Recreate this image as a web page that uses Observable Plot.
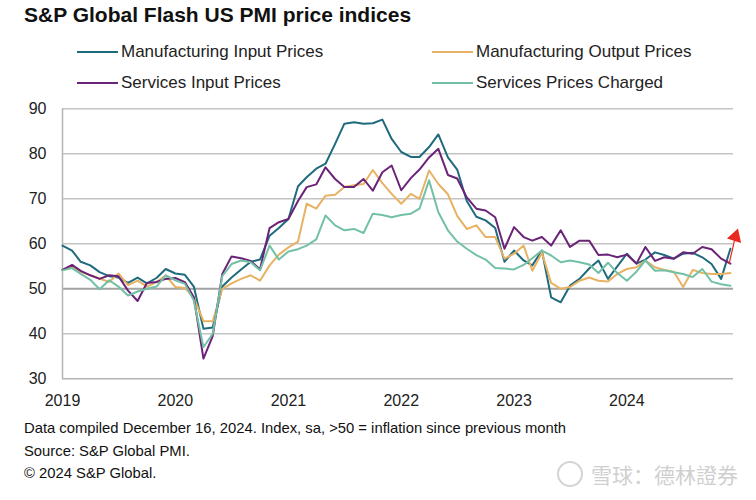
<!DOCTYPE html>
<html><head><meta charset="utf-8">
<script src="https://cdn.jsdelivr.net/npm/d3@7"></script>
<script src="https://cdn.jsdelivr.net/npm/@observablehq/plot@0.6"></script>
<style>
body{margin:0;background:#fff;font-family:"Liberation Sans",Arial,sans-serif;}
#wrap{position:relative;width:756px;height:500px;overflow:hidden;background:#fff;}
.title{position:absolute;left:24px;top:3px;font-size:21px;font-weight:bold;color:#111;white-space:nowrap;}
.leg{position:absolute;font-size:17px;color:#222;display:flex;align-items:center;white-space:nowrap;height:20px;}
.leg .sw{display:inline-block;width:41px;height:2.5px;margin-right:3px;}
#chart{position:absolute;left:0;top:95px;}
.foot{position:absolute;left:24px;font-size:14.8px;color:#111;white-space:nowrap;}
.wm{position:absolute;right:18px;top:459px;font-size:21px;color:#cfcfcf;font-family:"Noto Sans CJK SC",sans-serif;white-space:nowrap;display:flex;align-items:center;}
.wm .logo{display:inline-block;width:22px;height:22px;border:2px solid #d4d4d4;border-radius:50%;margin-right:8px;}
</style></head>
<body><div id="wrap"></div>
<script>
// ---- data ----
const seriesNames = ["Manufacturing Input Prices","Manufacturing Output Prices","Services Input Prices","Services Prices Charged"];
const seriesColors = ["#1f6b7e","#e7b264","#6b2378","#72c1a6"];
const startMonth = "2019-01";
const yearTicks = [2019,2020,2021,2022,2023,2024];
const yTicks = [30,40,50,60,70,80,90];

const mfgInput = [
  59.6,58.5,56.0,55.2,53.7,52.8,52.5,51.3,52.5,51.2,52.4,54.4,
  53.4,53.1,50.5,41.1,41.4,50.5,52.5,54.3,56.0,56.5,61.8,63.5,
  65.5,72.8,74.8,76.7,77.8,82.2,86.7,87.0,86.7,86.8,87.6,83.3,
  80.4,79.3,79.3,81.5,84.3,79.2,76.5,69.5,66.0,65.2,63.5,56.0,
  58.5,56.3,55.2,58.5,48.1,47.0,50.7,52.2,54.5,56.3,52.2,55.0,
  57.8,55.6,56.5,58.1,57.5,56.7,57.8,58.0,57.0,55.5,52.2,58.9];
const mfgOutput = [
  54.2,54.8,53.8,53.0,52.3,51.5,53.4,50.8,51.8,50.5,51.5,53.0,
  50.4,50.2,48.0,42.8,42.8,50.0,51.2,52.2,53.0,51.8,55.2,57.6,
  59.2,60.5,68.9,67.8,70.7,70.9,72.6,73.0,73.3,76.4,73.5,71.1,
  68.9,71.1,70.0,76.3,73.3,71.0,66.2,63.3,64.1,61.5,61.5,56.7,
  57.8,59.6,54.0,58.0,51.3,50.0,50.4,51.8,52.5,51.8,51.6,53.3,
  54.4,54.8,56.3,54.8,54.2,53.8,50.4,54.2,53.5,53.3,53.3,53.5];
const servInput = [
  54.2,55.3,54.0,53.0,52.2,53.0,52.8,49.6,47.3,51.3,51.5,52.2,
  52.4,51.5,48.1,34.5,39.5,53.3,57.2,56.8,56.2,54.3,63.5,64.8,
  65.5,69.5,72.6,73.2,77.0,74.4,72.6,72.6,74.4,71.8,75.9,77.4,
  71.9,74.6,76.5,79.2,81.1,75.3,74.5,70.3,67.8,67.4,65.9,58.9,
  63.7,61.5,60.7,61.5,59.6,63.0,59.3,60.7,60.7,57.5,57.6,57.0,
  57.6,55.6,59.3,56.2,57.0,56.7,58.1,57.8,59.3,58.8,56.7,55.6];
const servCharged = [
  54.1,54.6,53.3,52.0,49.9,51.9,50.5,48.5,49.4,50.0,50.5,53.0,
  51.9,51.1,47.4,37.0,40.0,52.8,55.5,56.3,55.9,54.1,59.6,56.5,
  58.3,58.8,59.6,61.0,66.3,64.1,63.0,63.3,62.4,66.7,66.4,65.9,
  66.4,66.7,67.8,74.1,67.0,63.0,60.5,58.9,57.5,56.5,54.6,54.5,
  54.3,55.3,56.8,58.5,57.4,55.9,56.3,55.9,55.4,53.5,55.8,53.5,
  51.8,53.8,56.3,54.0,54.1,53.7,53.3,52.6,54.4,51.6,51.0,50.7];
const arrowAnno = [{from: "2024-11-27", v1: 55.6, to: "2024-12-17", v2: 61.6}];

// ---- build ----
const parse = d3.utcParse("%Y-%m-%d");
const start = d3.utcParse("%Y-%m")(startMonth);
const allValues = [mfgInput, mfgOutput, servInput, servCharged];
const rows = [];
allValues.forEach((vals, s) => vals.forEach((v, i) => rows.push({date: d3.utcMonth.offset(start, i), value: v, series: seriesNames[s]})));
const yearDates = yearTicks.map(y => new Date(Date.UTC(y,0,1)));
const anno = arrowAnno.map(a => ({x1: parse(a.from), y1: a.v1, x2: parse(a.to), y2: a.v2}));

const wrap = document.getElementById("wrap");
wrap.insertAdjacentHTML("beforeend", `<div class="title">S&amp;P Global Flash US PMI price indices</div>`);
const legPos = [[77,42],[432,42],[77,73],[432,73]];
seriesNames.forEach((n,i) => {
  wrap.insertAdjacentHTML("beforeend", `<div class="leg" style="left:${legPos[i][0]}px;top:${legPos[i][1]}px"><span class="sw" style="background:${seriesColors[i]}"></span>${n}</div>`);
});

const chart = Plot.plot({
  width: 756, height: 315,
  marginLeft: 62, marginRight: 23, marginTop: 13.3, marginBottom: 31.7,
  style: {fontFamily: "Liberation Sans, Arial, sans-serif", fontSize: "16px", color: "#222", background: "#fff", overflow: "visible"},
  x: {type: "utc", domain: [start, new Date(Date.UTC(2024,11,11))]},
  y: {domain: [30, 90]},
  color: {domain: seriesNames, range: seriesColors},
  marks: [
    Plot.ruleY(yTicks.filter(d => d !== 50 && d !== 30), {stroke: "#c4c4c4", strokeWidth: 1.5}),
    Plot.ruleY([30], {stroke: "#b4b4b4", strokeWidth: 1.5}),
    Plot.ruleY([50], {stroke: "#a3a3a3", strokeWidth: 2}),
    Plot.ruleX([start], {y1: 30, y2: 90, stroke: "#b4b4b4", strokeWidth: 1.5}),
    Plot.axisY(yTicks, {tickSize: 0, tickPadding: 16, label: null}),
    Plot.axisX(yearDates, {tickSize: 0, tickPadding: 16, tickFormat: d3.utcFormat("%Y"), label: null}),
    Plot.line(rows, {x: "date", y: "value", z: "series", stroke: "series", strokeWidth: 2}),
    Plot.arrow(anno, {x1: "x1", y1: "y1", x2: "x2", y2: "y2", stroke: "#e8281e", strokeWidth: 1.2, headLength: 0}),
    Plot.dot(anno, {x: "x2", y: "y2", symbol: "triangle", r: 5.5, fill: "#e8281e", rotate: 18})
  ]
});
chart.id = "chart";
wrap.appendChild(chart);

wrap.insertAdjacentHTML("beforeend", `
<div class="foot" style="top:420px">Data compiled December 16, 2024. Index, sa, &gt;50 = inflation since previous month</div>
<div class="foot" style="top:443px">Source: S&amp;P Global PMI.</div>
<div class="foot" style="top:465px">© 2024 S&amp;P Global.</div>
<div class="wm"><span class="logo"></span>雪球：德林證券</div>`);
</script>
</body></html>
